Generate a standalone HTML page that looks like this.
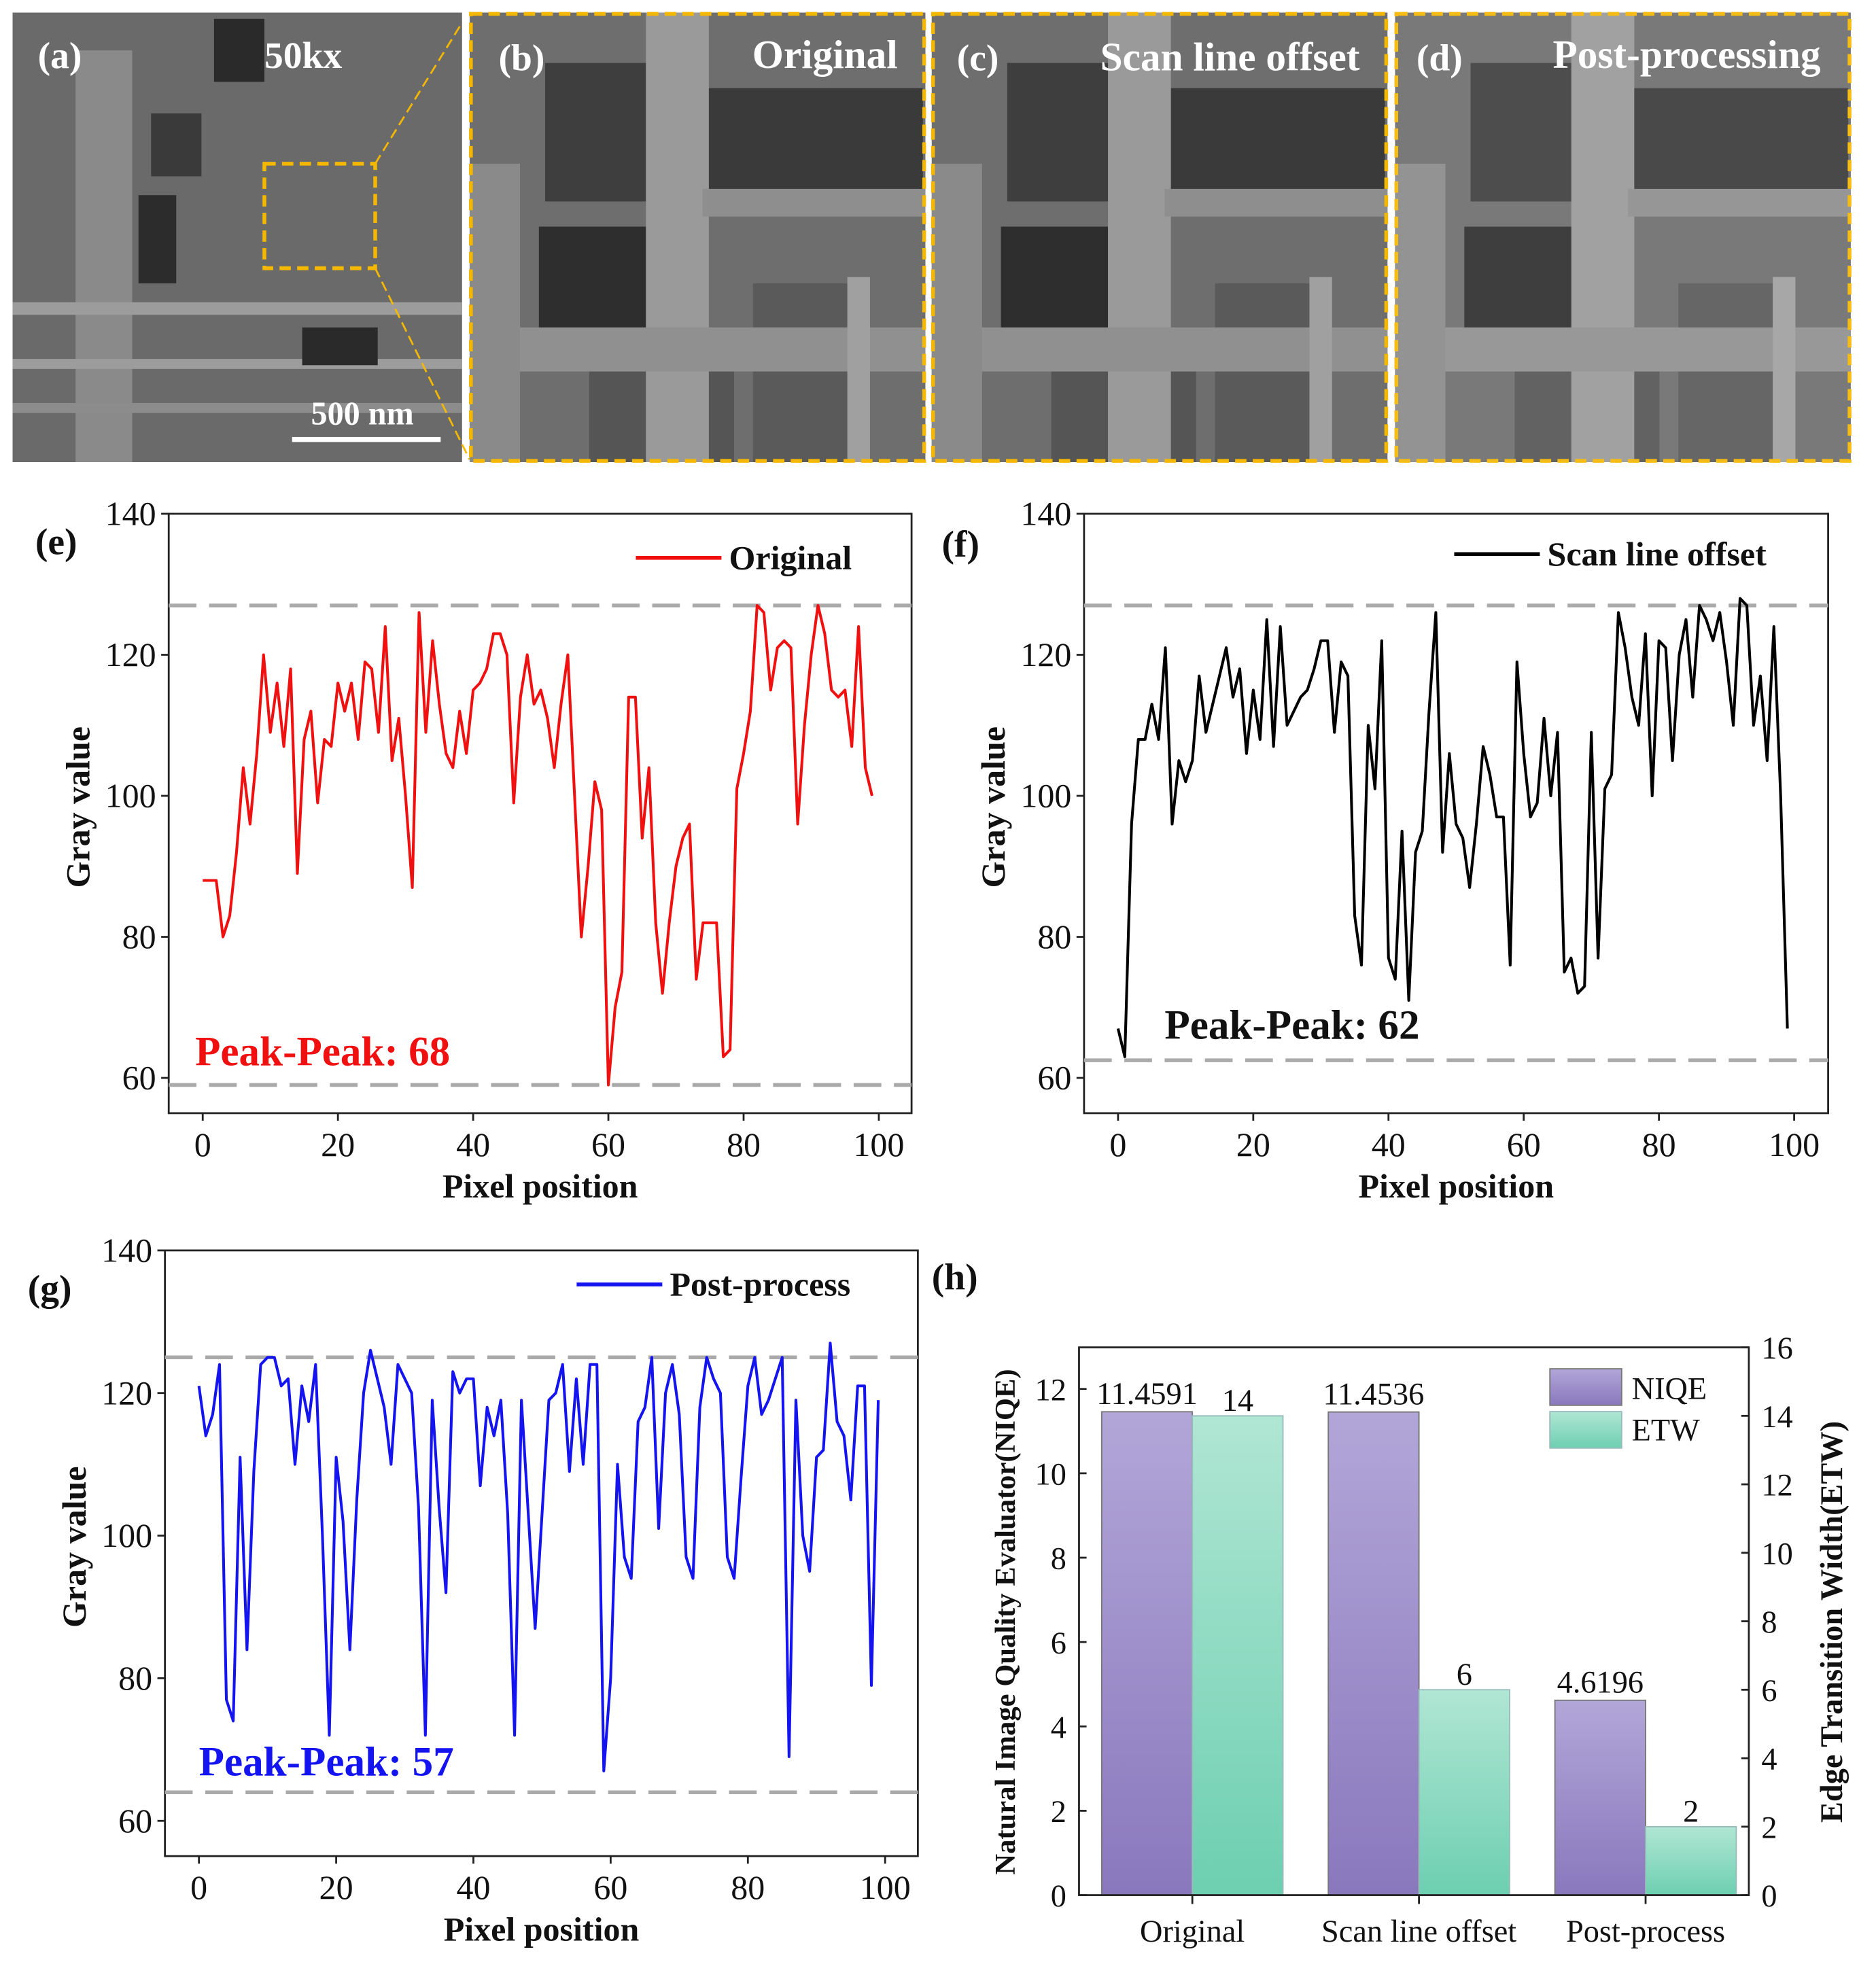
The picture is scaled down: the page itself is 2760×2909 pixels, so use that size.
<!DOCTYPE html>
<html><head><meta charset="utf-8">
<style>
html,body{margin:0;padding:0;background:#fff;}
svg{display:block;}
svg text{font-family:"Liberation Serif","DejaVu Serif",serif;}
</style></head>
<body>
<svg id="fig" width="2760" height="2909" viewBox="0 0 1490 1570" preserveAspectRatio="none" font-family="Liberation Serif, serif" xmlns="http://www.w3.org/2000/svg">
<defs>
  <linearGradient id="gP" x1="0" y1="0" x2="0" y2="1"><stop offset="0" stop-color="#b2a6d8"/><stop offset="1" stop-color="#8a78bd"/></linearGradient>
  <linearGradient id="gG" x1="0" y1="0" x2="0" y2="1"><stop offset="0" stop-color="#b0e6d4"/><stop offset="1" stop-color="#6dcfb0"/></linearGradient>
  <g id="zoomsem">
    <rect x="0" y="0" width="362" height="357" fill="#6e6e6e"/>
    <rect x="60" y="40" width="110" height="110" fill="#3e3e3e"/>
    <rect x="185" y="60" width="175" height="95" fill="#3a3a3a"/>
    <rect x="55" y="170" width="100" height="100" fill="#2e2e2e"/>
    <rect x="95" y="285" width="115" height="72" fill="#555"/>
    <rect x="225" y="215" width="80" height="142" fill="#5a5a5a"/>
    <rect x="140" y="0" width="50" height="357" fill="#9a9a9a"/>
    <rect x="0" y="250" width="362" height="35" fill="#909090"/>
    <rect x="185" y="140" width="177" height="22" fill="#8e8e8e"/>
    <rect x="300" y="210" width="18" height="147" fill="#a0a0a0"/>
    <rect x="0" y="120" width="40" height="237" fill="#8a8a8a"/>
  </g>
</defs>

<g>
  <rect x="10" y="10" width="357" height="357" fill="#6a6a6a"/>
  <rect x="60" y="40" width="45" height="327" fill="#8a8a8a"/>
  <rect x="120" y="90" width="40" height="50" fill="#3a3a3a"/>
  <rect x="110" y="155" width="30" height="70" fill="#2c2c2c"/>
  <rect x="170" y="15" width="40" height="50" fill="#2a2a2a"/>
  <rect x="10" y="240" width="357" height="10" fill="#9c9c9c"/>
  <rect x="10" y="285" width="357" height="8" fill="#9c9c9c"/>
  <rect x="10" y="320" width="357" height="8" fill="#8c8c8c"/>
  <rect x="240" y="260" width="60" height="30" fill="#2a2a2a"/>
  <rect x="210" y="130" width="88" height="83" fill="none" stroke="#f5b800" stroke-width="3" stroke-dasharray="9,5"/>
  <line x1="298" y1="130" x2="367" y2="18" stroke="#f5b800" stroke-width="1.5" stroke-dasharray="8,4"/>
  <line x1="298" y1="213" x2="373" y2="365" stroke="#f5b800" stroke-width="1.5" stroke-dasharray="8,4"/>
  <rect x="232" y="347" width="118" height="4" fill="#fff"/>
  <text x="30" y="54" font-size="30" font-weight="bold" fill="#fff">(a)</text>
  <text x="210" y="54" font-size="30" font-weight="bold" fill="#fff">50kx</text>
  <text x="247" y="337" font-size="26" font-weight="bold" fill="#fff">500 nm</text>
</g>
<g>
  <use href="#zoomsem" x="373" y="10"/>
  <rect x="374" y="11" width="360" height="355" fill="none" stroke="#f5b800" stroke-width="3" stroke-dasharray="9,5"/>
  <text x="396" y="56" font-size="30" font-weight="bold" fill="#fff">(b)</text>
  <text x="713" y="54" font-size="32" font-weight="bold" fill="#fff" text-anchor="end">Original</text>
</g>
<g>
  <use href="#zoomsem" x="740" y="10"/>
  <rect x="741" y="11" width="360" height="355" fill="none" stroke="#f5b800" stroke-width="3" stroke-dasharray="9,5"/>
  <text x="760" y="56" font-size="30" font-weight="bold" fill="#fff">(c)</text>
  <text x="1080" y="56" font-size="32" font-weight="bold" fill="#fff" text-anchor="end">Scan line offset</text>
</g>
<g opacity="0.92">
  <use href="#zoomsem" x="1108" y="10"/>
  <rect x="1109" y="11" width="360" height="355" fill="none" stroke="#f5b800" stroke-width="3" stroke-dasharray="9,5"/>
  <text x="1125" y="56" font-size="30" font-weight="bold" fill="#fff">(d)</text>
  <text x="1446" y="54" font-size="32" font-weight="bold" fill="#fff" text-anchor="end">Post-processing</text>
</g>
<g id="charts"></g>
</svg>
<script>
const xTicks = [0,20,40,60,80,100];
const yTicks = [60,80,100,120,140];
const origVals = [88,88,88,80,83,92,104,96,106,120,109,116,107,118,89,108,112,99,108,107,116,112,116,108,119,118,109,124,105,111,100,87,126,109,122,113,106,104,112,106,115,116,118,123,123,120,99,114,120,113,115,111,104,113,120,100,80,90,102,98,59,70,75,114,114,94,104,82,72,82,90,94,96,74,82,82,82,63,64,101,106,112,127,126,115,121,122,121,96,110,120,127,123,115,114,115,107,124,104,100];
const scanVals = [67,63,96,108,108,113,108,121,96,105,102,105,117,109,113,117,121,114,118,106,115,108,125,107,124,110,112,114,115,118,122,122,109,119,117,83,76,110,101,122,77,74,95,71,92,95,112,126,92,106,96,94,87,96,107,103,97,97,76,119,106,97,99,111,100,109,75,77,72,73,109,77,101,103,126,121,114,110,123,100,122,121,105,120,125,114,127,125,122,126,119,110,128,127,110,117,105,124,100,67];
const postVals = [121,114,117,124,77,74,111,84,109,124,125,125,121,122,110,121,116,124,100,72,111,102,84,105,120,126,122,118,110,124,122,120,104,72,119,104,92,123,120,122,122,107,118,114,119,103,72,119,103,87,103,119,120,124,109,122,110,124,124,67,80,110,97,94,116,118,125,101,120,124,117,97,94,118,125,122,120,97,94,108,121,125,117,119,122,125,69,119,100,95,111,112,127,116,114,105,121,121,79,119];
const refE = [127,59], refF = [127,62.5], refG = [125,64];
const barCats = ["Original","Scan line offset","Post-process"];
const niqeVals = [11.4591,11.4536,4.6196];
const etwVals = [14,6,2];
const niqeLabels = ["11.4591","11.4536","4.6196"];
const etwLabels = ["14","6","2"];
const leftTicks = [0,2,4,6,8,10,12];
const rightTicks = [0,2,4,6,8,10,12,14,16];

const NS="http://www.w3.org/2000/svg";
const root=document.getElementById('charts');
function mk(tag,attrs,parent,txt){const e=document.createElementNS(NS,tag);for(const k in attrs)e.setAttribute(k,attrs[k]);if(tag==='text')e.setAttribute('font-family','Liberation Serif, serif');if(txt!==undefined)e.textContent=txt;(parent||root).appendChild(e);return e;}

function lineChart(o){
  const g=mk('g',{});
  
  
  const sx=v=>o.x0+(v-0)/(100-0)*(o.x100-o.x0);
  const sy=v=>o.y60+(v-60)/(140-60)*(o.y140-o.y60);
  const box=mk('rect',{x:o.bx,y:o.by,width:o.bw,height:o.bh,fill:'none',stroke:'#222','stroke-width':1.5},g);
  
  
  const by2=o.by+o.bh;
  xTicks.forEach(t=>{
    mk('line',{x1:sx(t),x2:sx(t),y1:by2,y2:by2+6,stroke:'#222','stroke-width':1.5},g);
    const tl=mk('text',{x:sx(t),y:by2+34,'font-size':27,'text-anchor':'middle',fill:'#111'},g,String(t));
    
    
  });
  yTicks.forEach(t=>{
    mk('line',{x1:o.bx,x2:o.bx-6,y1:sy(t),y2:sy(t),stroke:'#222','stroke-width':1.5},g);
    const tl=mk('text',{x:o.bx-10,y:sy(t)+9,'font-size':27,'text-anchor':'end',fill:'#111'},g,String(t));
    
    
  });
  o.refs.forEach(r=>{
    const l=mk('line',{x1:o.bx,x2:o.bx+o.bw,y1:sy(r),y2:sy(r),stroke:'#aaa','stroke-width':3,'stroke-dasharray':'22,10'},g);
    
    
  });
  const pts=o.vals.map((v,i)=>sx(i)+','+sy(v)).join(' ');
  const pl=mk('polyline',{points:pts,fill:'none',stroke:o.color,'stroke-width':2.2,'stroke-linejoin':'round'},g);
  
  
  const xt=mk('text',{x:o.bx+o.bw/2,y:by2+67,'font-size':27,'font-weight':'bold','text-anchor':'middle',fill:'#111'},g,'Pixel position');
  
  
  const yt=mk('text',{x:0,y:0,'font-size':27,'font-weight':'bold','text-anchor':'middle',fill:'#111',transform:`translate(${o.bx-63},${o.by+o.bh/2-5}) rotate(-90)`},g,'Gray value');
  
  
  const ll=mk('line',{x1:o.legX,x2:o.legX+68,y1:o.legY-9,y2:o.legY-9,stroke:o.color,'stroke-width':3},g);
  
  
  const lt=mk('text',{x:o.legX+74,y:o.legY,'font-size':27,'font-weight':'bold',fill:'#111'},g,o.legend);
  
  
  const pp=mk('text',{x:o.ppX,y:o.ppY,'font-size':33,'font-weight':'bold',fill:o.ppColor},g,o.pp);
  
  
  const pl2=mk('text',{x:o.labX,y:o.labY,'font-size':30,'font-weight':'bold',fill:'#111'},g,o.label);
  
  
}

lineChart({name:'chart-e-original',bx:134,by:408,bw:590,bh:476,x0:161,x100:698,y60:856,y140:408,vals:origVals,refs:refE,color:'#f01010',legend:'Original',legX:505,legY:452,pp:'Peak-Peak: 68',ppX:155,ppY:846,ppColor:'#f01010',label:'(e)',labX:28,labY:440});
lineChart({name:'chart-f-scan-line-offset',bx:861,by:408,bw:591,bh:476,x0:888,x100:1425,y60:856,y140:408,vals:scanVals,refs:refF,color:'#000',legend:'Scan line offset',legX:1155,legY:449,pp:'Peak-Peak: 62',ppX:925,ppY:825,ppColor:'#111',label:'(f)',labX:748,labY:442});
lineChart({name:'chart-g-post-process',bx:131,by:993,bw:598,bh:481,x0:158,x100:703,y60:1446,y140:993,vals:postVals,refs:refG,color:'#1414f0',legend:'Post-process',legX:458,legY:1029,pp:'Peak-Peak: 57',ppX:158,ppY:1410,ppColor:'#1414f0',label:'(g)',labX:22,labY:1033});

(function(){
  const g=mk('g',{});
  
  
  const bx=857,by=1070,bw=532,bh=435,base=1505;
  const syL=v=>base-v*(base-1103)/12;
  const syR=v=>base-v*(base-1070)/16;
  const cx=[947,1127,1307], bwid=72;
  barCats.forEach((c,i)=>{
    const r1=mk('rect',{x:cx[i]-bwid,y:syL(niqeVals[i]),width:bwid,height:base-syL(niqeVals[i]),fill:'url(#gP)',stroke:'#777','stroke-width':1},g);
    
    
    const r2=mk('rect',{x:cx[i],y:syR(etwVals[i]),width:bwid,height:base-syR(etwVals[i]),fill:'url(#gG)',stroke:'#9bb','stroke-width':1},g);
    
    
    const t1=mk('text',{x:cx[i]-bwid/2,y:syL(niqeVals[i])-6,'font-size':25,'text-anchor':'middle',fill:'#111'},g,niqeLabels[i]);
    
    
    const t2=mk('text',{x:cx[i]+bwid/2,y:syR(etwVals[i])-4,'font-size':25,'text-anchor':'middle',fill:'#111'},g,etwLabels[i]);
    
    
    mk('line',{x1:cx[i],x2:cx[i],y1:base,y2:base+7,stroke:'#222','stroke-width':1.5},g);
    const ct=mk('text',{x:cx[i],y:base+37,'font-size':25,'text-anchor':'middle',fill:'#111'},g,c);
    
    
  });
  mk('rect',{x:bx,y:by,width:bw,height:bh,fill:'none',stroke:'#222','stroke-width':1.5},g);
  leftTicks.forEach(t=>{
    mk('line',{x1:bx,x2:bx+6,y1:syL(t),y2:syL(t),stroke:'#222','stroke-width':1.5},g);
    const tl=mk('text',{x:bx-10,y:syL(t)+9,'font-size':25,'text-anchor':'end',fill:'#111'},g,String(t));
    
    
  });
  rightTicks.forEach(t=>{
    mk('line',{x1:bx+bw,x2:bx+bw-6,y1:syR(t),y2:syR(t),stroke:'#222','stroke-width':1.5},g);
    const tl=mk('text',{x:bx+bw+10,y:syR(t)+9,'font-size':25,fill:'#111'},g,String(t));
    
    
  });
  const yl=mk('text',{x:0,y:0,'font-size':23,'font-weight':'bold','text-anchor':'middle',fill:'#111',transform:`translate(806,1288) rotate(-90)`},g,'Natural Image Quality Evaluator(NIQE)');
  
  
  const yr=mk('text',{x:0,y:0,'font-size':25,'font-weight':'bold','text-anchor':'middle',fill:'#111',transform:`translate(1463,1288) rotate(-90)`},g,'Edge Transition Width(ETW)');
  
  
  const s1=mk('rect',{x:1231,y:1087,width:57,height:29,fill:'url(#gP)',stroke:'#777'},g);
  
  
  const s2=mk('rect',{x:1231,y:1121,width:57,height:29,fill:'url(#gG)',stroke:'#9bb'},g);
  
  
  const l1=mk('text',{x:1296,y:1111,'font-size':25,fill:'#111'},g,'NIQE');
  
  
  const l2=mk('text',{x:1296,y:1144,'font-size':25,fill:'#111'},g,'ETW');
  
  
  const pl=mk('text',{x:740,y:1024,'font-size':30,'font-weight':'bold',fill:'#111'},g,'(h)');
  
  
})();
</script>
</body></html>
